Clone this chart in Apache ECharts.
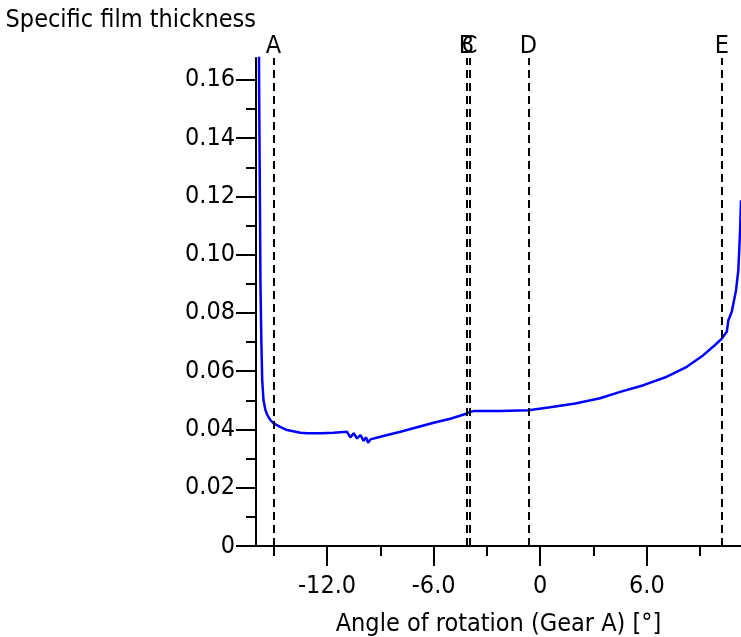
<!DOCTYPE html>
<html>
<head>
<meta charset="utf-8">
<script src="https://cdn.jsdelivr.net/npm/echarts@6/dist/echarts.min.js"></script>
<style>
  html, body { margin: 0; padding: 0; background: #ffffff; }
  #chart { width: 741px; height: 637px; }
</style>
</head>
<body>
<div id="chart"></div>
<script>
// Rotation angle of gear A [°] and the specific film thickness along the line of action
const angle = [
  -15.84, -15.82, -15.78, -15.75, -15.70, -15.65, -15.58, -15.47, -15.36, -15.19,
  -15.00, -14.62, -14.25, -13.50, -13.12, -12.37, -11.64, -10.87, -10.69, -10.50,
  -10.31, -10.12, -9.94, -9.80, -9.69, -9.56, -9.00, -7.87, -6.00, -5.06,
  -4.12, -3.94, -3.75, -2.25, -0.66, 0.56, 1.97, 3.37, 4.50, 5.81,
  7.13, 8.25, 9.18, 9.84, 10.22, 10.50, 10.59, 10.78, 11.02, 11.15,
  11.25, 11.30
];
const lambda = [
  0.180, 0.153, 0.119, 0.090, 0.0707, 0.0569, 0.0501, 0.0467, 0.0449, 0.0432,
  0.0421, 0.0408, 0.0398, 0.0389, 0.0387, 0.0387, 0.0389, 0.0392, 0.0373, 0.0387,
  0.0369, 0.0381, 0.0361, 0.0373, 0.0354, 0.0366, 0.0375, 0.0392, 0.0423, 0.0437,
  0.0455, 0.0461, 0.0463, 0.0463, 0.0466, 0.0476, 0.0489, 0.0507, 0.0529, 0.0552,
  0.0581, 0.0615, 0.0655, 0.0690, 0.0712, 0.0735, 0.0775, 0.0804, 0.0878, 0.0947,
  0.1084, 0.1187
];

// Tick positions
const xMajorTicks = [-12, -6, 0, 6];
const xMinorTicks = [-15, -9, -3, 3, 9];
const yMajorTicks = [0, 0.02, 0.04, 0.06, 0.08, 0.10, 0.12, 0.14, 0.16];
const yMinorTicks = [0.01, 0.03, 0.05, 0.07, 0.09, 0.11, 0.13, 0.15];

// Characteristic points on the line of action
const markerNames = ['A', 'B', 'C', 'D', 'E'];
const markerAngles = [-15.02, -4.16, -3.98, -0.66, 10.22];

const X_MIN = -16, X_MAX = 11.3;
const Y_MIN = 0, Y_MAX = 0.1675;

const FONT = '"DejaVu Sans Condensed", "DejaVu Sans", sans-serif';
const FSIZE = 25;

const chart = echarts.init(document.getElementById('chart'), null, { renderer: 'canvas' });

const axisLine = { show: true, onZero: false, lineStyle: { color: '#000', width: 2 } };

const option = {
  animation: false,
  backgroundColor: '#ffffff',
  grid: { left: 256, right: 0, top: 58, bottom: 91, containLabel: false, outerBoundsMode: 'none' },
  xAxis: [
    {
      type: 'value', min: X_MIN, max: X_MAX, position: 'bottom',
      axisLine: axisLine,
      axisTick: { show: true, customValues: xMajorTicks, length: 20, lineStyle: { color: '#000', width: 2 } },
      axisLabel: {
        show: true, customValues: xMajorTicks, margin: 28,
        color: '#000', fontFamily: FONT, fontSize: FSIZE,
        formatter: v => (v === 0 ? '0' : v.toFixed(1))
      },
      splitLine: { show: false },
      name: 'Angle of rotation (Gear A) [°]',
      nameLocation: 'middle', nameGap: 66,
      nameTextStyle: { color: '#000', fontFamily: FONT, fontSize: FSIZE }
    },
    {
      type: 'value', min: X_MIN, max: X_MAX, position: 'bottom',
      axisLine: { show: false, onZero: false },
      axisTick: { show: true, customValues: xMinorTicks, length: 10, lineStyle: { color: '#000', width: 2 } },
      axisLabel: { show: false },
      splitLine: { show: false }
    }
  ],
  yAxis: [
    {
      type: 'value', min: Y_MIN, max: Y_MAX, position: 'left',
      axisLine: axisLine,
      axisTick: { show: true, customValues: yMajorTicks, length: 20, lineStyle: { color: '#000', width: 2 } },
      axisLabel: {
        show: true, customValues: yMajorTicks, margin: 21,
        color: '#000', fontFamily: FONT, fontSize: FSIZE,
        formatter: v => (v === 0 ? '0' : v.toFixed(2))
      },
      splitLine: { show: false },
      name: 'Specific film thickness',
      nameLocation: 'end', nameGap: 38,
      nameTextStyle: { color: '#000', fontFamily: FONT, fontSize: FSIZE, align: 'right', verticalAlign: 'middle' }
    },
    {
      type: 'value', min: Y_MIN, max: Y_MAX, position: 'left',
      axisLine: { show: false, onZero: false },
      axisTick: { show: true, customValues: yMinorTicks, length: 10, lineStyle: { color: '#000', width: 2 } },
      axisLabel: { show: false },
      splitLine: { show: false }
    }
  ],
  series: [
    {
      type: 'line',
      xAxisIndex: 0, yAxisIndex: 0,
      data: angle.map((a, i) => [a, lambda[i]]),
      showSymbol: false,
      symbol: 'none',
      clip: true,
      lineStyle: { color: '#0000ff', width: 2.5 },
      markLine: {
        silent: true,
        symbol: ['none', 'none'],
        lineStyle: { color: '#000', width: 2, type: [8, 5] },
        label: {
          show: true, position: 'end', distance: -1,
          formatter: '{b}', color: '#000', fontFamily: FONT, fontSize: FSIZE
        },
        data: markerAngles.map((x, i) => ({ xAxis: x, name: markerNames[i] }))
      }
    }
  ]
};

chart.setOption(option);
</script>
</body>
</html>
